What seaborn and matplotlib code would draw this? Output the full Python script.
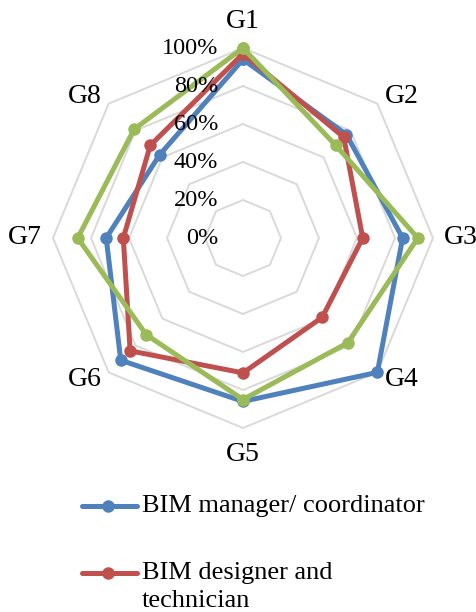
import numpy as np
import pandas as pd
import matplotlib
matplotlib.use("Agg")
import matplotlib.pyplot as plt
from matplotlib.lines import Line2D
import seaborn as sns

# ---- data -------------------------------------------------------------
categories = ["G1", "G2", "G3", "G4", "G5", "G6", "G7", "G8"]
bim_manager = [94, 77, 84, 100, 86, 91, 72, 62]
bim_designer = [97, 75, 63, 59, 71, 84, 63, 69]
third_group = [100, 69, 92, 78, 85, 72, 87, 81]

series_names = ["BIM manager/ coordinator", "BIM designer and\ntechnician", "Group 3"]
series_colors = ["#4F81BD", "#C0504D", "#9BBB59"]

ring_levels = [0, 20, 40, 60, 80, 100]
ring_labels = ["0%", "20%", "40%", "60%", "80%", "100%"]

# ---- style ------------------------------------------------------------
sns.set_theme(style="white")
plt.rcParams["font.family"] = ["Liberation Serif", "DejaVu Serif"]

W, H, DPI = 477, 612, 100
fig = plt.figure(figsize=(W / DPI, H / DPI), dpi=DPI)
fig.patch.set_facecolor("white")

# Square axes centred on the radar's hub
cx, cy, R = 243, 238, 190          # hub position and 100% radius (pixels)
lim = 1.25
half = lim * R
ax = fig.add_axes([(cx - half) / W, (H - cy - half) / H, 2 * half / W, 2 * half / H])
ax.set_xlim(-lim, lim)
ax.set_ylim(-lim, lim)
ax.set_axis_off()

n = len(categories)
theta = np.arange(n) * 2 * np.pi / n          # clockwise from the top


def to_xy(values):
    r = np.asarray(values, dtype=float) / 100.0
    return r * np.sin(theta), r * np.cos(theta)


# ---- octagonal grid rings --------------------------------------------
for lvl in ring_levels[1:]:
    gx, gy = to_xy([lvl] * n)
    ax.plot(np.append(gx, gx[0]), np.append(gy, gy[0]), color="#D9D9D9",
            lw=1.4, zorder=1, solid_joinstyle="miter")

for lvl, lab in zip(ring_levels, ring_labels):
    ax.text(-0.13, lvl / 100.0, lab, ha="right", va="center", fontsize=17.5,
            color="black", zorder=5)

# ---- category labels --------------------------------------------------
label_pos = {
    "G1": (0.0, 1.137), "G2": (0.835, 0.745), "G3": (1.147, 0.0),
    "G4": (0.835, -0.745), "G5": (0.0, -1.142), "G6": (-0.835, -0.745),
    "G7": (-1.147, 0.0), "G8": (-0.835, 0.745),
}
for cat in categories:
    px, py = label_pos[cat]
    ax.text(px, py, cat, ha="center", va="center", fontsize=20, color="black")

# ---- series -----------------------------------------------------------
rows = []
for name, vals in zip(series_names, [bim_manager, bim_designer, third_group]):
    xs, ys = to_xy(vals)
    xs = np.append(xs, xs[0])
    ys = np.append(ys, ys[0])
    for k, (x, y) in enumerate(zip(xs, ys)):
        rows.append({"series": name, "step": k, "x": x, "y": y})
df = pd.DataFrame(rows)

sns.lineplot(data=df, x="x", y="y", hue="series", units="series",
             estimator=None, sort=False, palette=series_colors,
             hue_order=series_names, marker="o", markersize=9,
             markeredgewidth=0, linewidth=3.6, legend=False, ax=ax, zorder=3)
for line in ax.get_lines()[-3:]:
    line.set_solid_joinstyle("miter")
    line.set_solid_capstyle("round")

ax.set_xlim(-lim, lim)
ax.set_ylim(-lim, lim)
ax.set_xlabel("")
ax.set_ylabel("")

# ---- legend (stacked entries below the chart) -------------------------
legend_rows = [(series_names[0], series_colors[0], 506),
               (series_names[1], series_colors[1], 573)]
for name, col, ypix in legend_rows:
    yf = 1 - ypix / H
    handle = Line2D([82 / W, 108 / W, 137 / W], [yf, yf, yf], transform=fig.transFigure,
                    color=col, lw=3.6, marker="o", markersize=9, markevery=[1],
                    markeredgewidth=0, solid_capstyle="round")
    fig.add_artist(handle)
    fig.text(142 / W, 1 - (ypix - 11) / H, name, ha="left", va="top",
             fontsize=19, color="black", linespacing=1.35)

fig.savefig("out.png", dpi=DPI, facecolor="white")
